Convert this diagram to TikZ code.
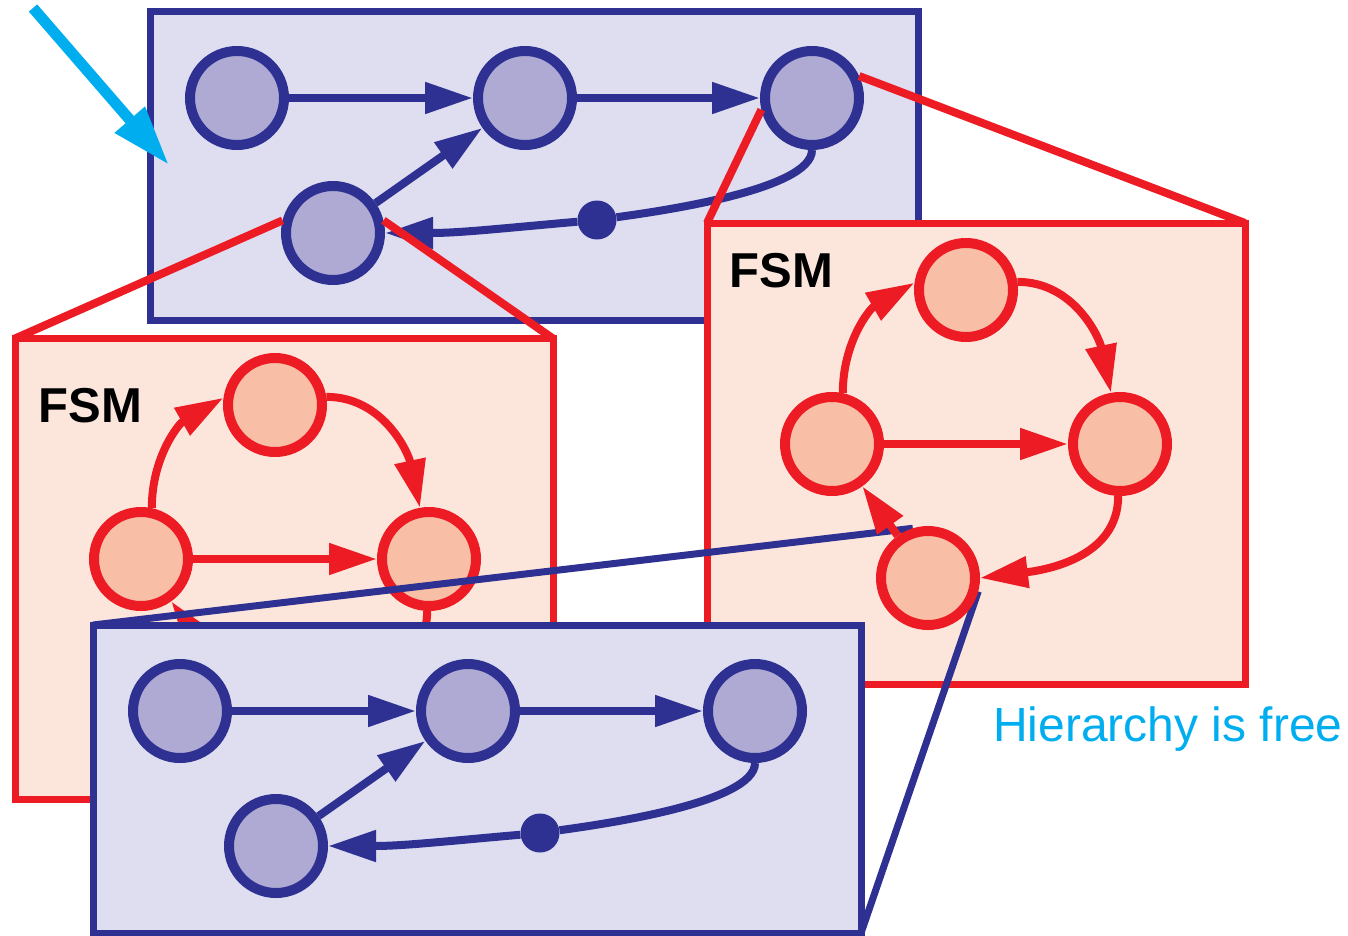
\documentclass[tikz,border=0pt]{standalone}
\usepackage{fontspec}
\setmainfont{Liberation Sans}
\usetikzlibrary{arrows.meta,positioning}
\definecolor{flowBlue}{RGB}{46,49,146}
\definecolor{paneBlue}{RGB}{222,222,240}
\definecolor{nodeBlue}{RGB}{174,170,211}
\definecolor{fsmRed}{RGB}{237,28,36}
\definecolor{paneRed}{RGB}{252,230,220}
\definecolor{nodeRed}{RGB}{249,190,166}
\definecolor{hintCyan}{RGB}{0,174,239}

\pgfdeclarelayer{front}
\pgfsetlayers{main,front}

\tikzset{
  dpane/.style={rectangle, draw=flowBlue, fill=paneBlue, line width=7pt,
                minimum width=768pt, minimum height=308pt, outer sep=0pt},
  spane/.style={rectangle, draw=fsmRed, fill=paneRed, line width=7pt,
                minimum width=538pt, minimum height=461pt, outer sep=0pt},
  dnode/.style={circle, draw=flowBlue, fill=nodeBlue, line width=10pt,
                minimum size=94pt, inner sep=0pt},
  snode/.style={circle, draw=fsmRed, fill=nodeRed, line width=10pt,
                minimum size=94pt, inner sep=0pt},
  token/.style={circle, fill=flowBlue, minimum size=39pt, inner sep=0pt},
  flow/.style={draw=flowBlue, line width=8pt,
               -{Triangle[length=48pt,width=30pt]}},
  trans/.style={draw=fsmRed, line width=8pt,
                -{Triangle[length=48pt,width=30pt]}},
  zoomred/.style={draw=fsmRed, line width=8pt},
  zoomblue/.style={draw=flowBlue, line width=7pt},
  cue/.style={draw=hintCyan, line width=11pt,
              -{Triangle[length=60pt,width=37pt]}},
  tag/.style={anchor=base west, inner sep=0pt,
              font=\fontsize{49pt}{52pt}\selectfont\bfseries}
}

% dataflow pane: #1 = shift, #2 = name prefix
\newcommand{\dataflow}[2]{%
  \begin{scope}[shift={#1}]
    \node[dpane] (#2box) at (534,-166) {};
    \node[dnode] (#2a) at (237,-98) {};
    \node[dnode] (#2b) at (525,-98) {};
    \node[dnode] (#2c) at (812,-98) {};
    \node[dnode] (#2d) at (333,-233) {};
    \node[token] (#2dot) at (597,-220) {};
    \draw[flow] (#2a) -- (#2b);
    \draw[flow] (#2b) -- (#2c);
    \draw[flow] (#2d) -- (#2b);
    \draw[flow] (#2c.south) to[out=-90,in=8,looseness=0.5] (#2dot)
      to[out=185,in=0] (#2d);
  \end{scope}}

% state machine: #1 = shift, #2 = name prefix
\newcommand{\fsm}[2]{%
  \begin{scope}[shift={#1}]
    \node[snode] (#2l) at (832,-444) {};
    \node[snode] (#2t) at (966,-290) {};
    \node[snode] (#2r) at (1120,-444) {};
    \node[snode] (#2b) at (928,-578) {};
    \draw[trans] (#2l.78) to[out=90,in=210] (#2t.172);
    \draw[trans] (#2t.9) to[out=0,in=102] (#2r.100);
    \draw[trans] (#2l) -- (#2r);
    \draw[trans] (#2r.-92) to[out=-90,in=7] (#2b.0);
    \draw[trans] (#2b) -- (#2l);
  \end{scope}}

\begin{document}
\begin{tikzpicture}[x=1pt, y=1pt]
  \useasboundingbox (0,0) rectangle (1348,-936);

  % top level
  \dataflow{(0,0)}{top-}

  % refinements
  \node[spane] (leftpane) at (284,-569) {};
  \fsm{(-691,-115)}{left-}
  \node[spane] (rightpane) at (976,-453.5) {};
  \begin{pgfonlayer}{front}
    \fsm{(0,0)}{right-}
  \end{pgfonlayer}
  \dataflow{(-57,-613)}{low-}

  % zoom lines
  \draw[zoomred] (top-d.166) -- (leftpane.north west);
  \draw[zoomred] (top-d.14) -- (leftpane.north east);
  \draw[zoomred] (top-c.193) -- (rightpane.north west);
  \draw[zoomred] (top-c.25) -- (rightpane.north east);
  \draw[zoomblue] (right-b.107) -- (low-box.north west);
  \draw[zoomblue] (right-b.-15) -- (low-box.south east);

  \node[tag] (fsm-right) at (729.5,-287) {FSM};
  \node[tag] (fsm-left) at (38.5,-422) {FSM};
  \node[anchor=base west, inner sep=0pt, text=hintCyan,
        font=\fontsize{48pt}{50pt}\selectfont] (motto) at (993,-741)
    {Hierarchy is free};

  % entry arrow
  \coordinate (cue-start) at (33,-8);
  \coordinate (cue-tip) at (169,-165);
  \draw[cue] (cue-start) -- (cue-tip);
\end{tikzpicture}
\end{document}
